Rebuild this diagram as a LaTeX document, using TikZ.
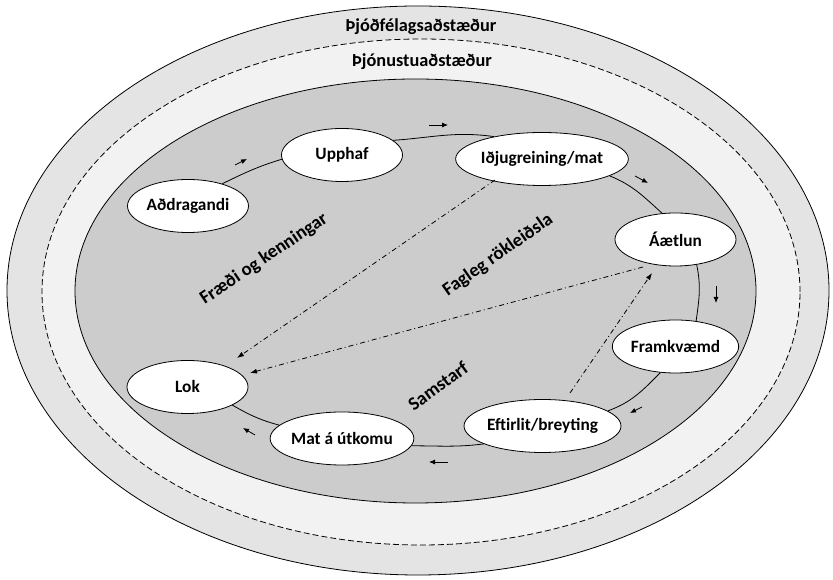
\documentclass[tikz,border=0pt]{standalone}
\usepackage{fontspec}
\setmainfont{Carlito}
\usetikzlibrary{shapes.geometric,arrows.meta,calc}
\definecolor{ringA}{HTML}{E4E4E4}
\definecolor{ringB}{HTML}{F2F2F2}
\definecolor{core}{HTML}{CCCCCC}
\begin{document}
\begin{tikzpicture}[x=1pt,y=1pt,
  stage/.style={ellipse,draw=black,line width=0.8pt,fill=white,minimum width=121pt,minimum height=53pt,inner sep=0pt,font=\fontsize{17.3}{19}\selectfont\bfseries},
  ringlabel/.style={font=\fontsize{18.3}{20}\selectfont\bfseries},
  arealabel/.style={font=\fontsize{18.8}{20}\selectfont\bfseries},
  cyc/.style={line width=0.8pt},
  flow/.style={line width=0.8pt,-{Latex[length=6pt,width=5pt]}},
  dd/.style={line width=0.8pt,dash pattern=on 5pt off 3pt on 1pt off 3pt,-{Latex[length=7pt,width=5pt]}}]
\useasboundingbox[fill=white] (0,0) rectangle (833,580);
% rings
\draw[line width=0.8pt,fill=ringA] (418,289.5) ellipse [x radius=411,y radius=284.5];
\draw[line width=0.8pt,fill=ringB,dash pattern=on 6pt off 3pt] (421,288) ellipse [x radius=379,y radius=253];
\draw[line width=0.8pt,fill=core] (415.5,289) ellipse [x radius=340.5,y radius=212];
\node[ringlabel] (soc) at (421,553) {Þjóðfélagsaðstæður};
\node[ringlabel] (serv) at (422,518) {Þjónustuaðstæður};
% stages
\node[stage] (adr) at (188,374) {Aðdragandi};
\node[stage] (upp) at (342,425) {Upphaf};
\node[stage] (idj) at (542,421) {Iðjugreining/mat};
\node[stage] (aet) at (675.5,340.5) {Áætlun};
\node[stage] (fram) at (675.5,233.5) {Framkvæmd};
\node[stage] (eft) at (542.5,154) {Eftirlit/breyting};
\node[stage] (mat) at (342,141.5) {Mat á útkomu};
\node[stage] (lok) at (187.5,193) {Lok};
% cycle
\draw[cyc] (adr.33) to[out=26,in=197] (upp.184);
\draw[cyc] (upp.16) to[out=4,in=172] (idj.155);
\draw[cyc] (idj.346) to[out=-22,in=138] (aet.117);
\draw[cyc] (aet.310) to[out=-78,in=82] (fram.51);
\draw[cyc] (fram.240) to[out=225,in=20] (eft.13);
\draw[cyc] (eft.197) to[out=187,in=0] (mat.354);
\draw[cyc] (mat.168) to[out=165,in=330] (lok.338);
% direction arrows
\draw[flow] (235,415) -- (247,421);
\draw[flow] (429,455) -- (448,455);
\draw[flow] (635,404) -- (648,397);
\draw[flow] (716,294) -- (716,277);
\draw[flow] (642,173) -- (630,167);
\draw[flow] (448,118) -- (429,118);
\draw[flow] (255,145) -- (243,152);
% feedback arrows
\coordinate (s1) at ($(idj.center)+(-47,-21)$);
\coordinate (t1) at ($(lok.center)+(49.5,29)$);
\coordinate (s2) at ($(aet.center)+(-32.5,-27.5)$);
\coordinate (t2) at ($(lok.center)+(62.5,14)$);
\coordinate (s3) at ($(eft.center)+(27.5,33)$);
\coordinate (t3) at ($(aet.center)+(-23.5,-33.5)$);
\draw[dd] (s1) -- (t1);
\draw[dd] (s2) -- (t2);
\draw[dd] (s3) -- (t3);
% area labels
\node[arealabel,rotate=34] (theory) at (264,321) {Fræði og kenningar};
\node[arealabel,rotate=35] (reason) at (498,325) {Fagleg rökleiðsla};
\node[arealabel,rotate=36] (coop) at (438,194) {Samstarf};
\end{tikzpicture}
\end{document}
